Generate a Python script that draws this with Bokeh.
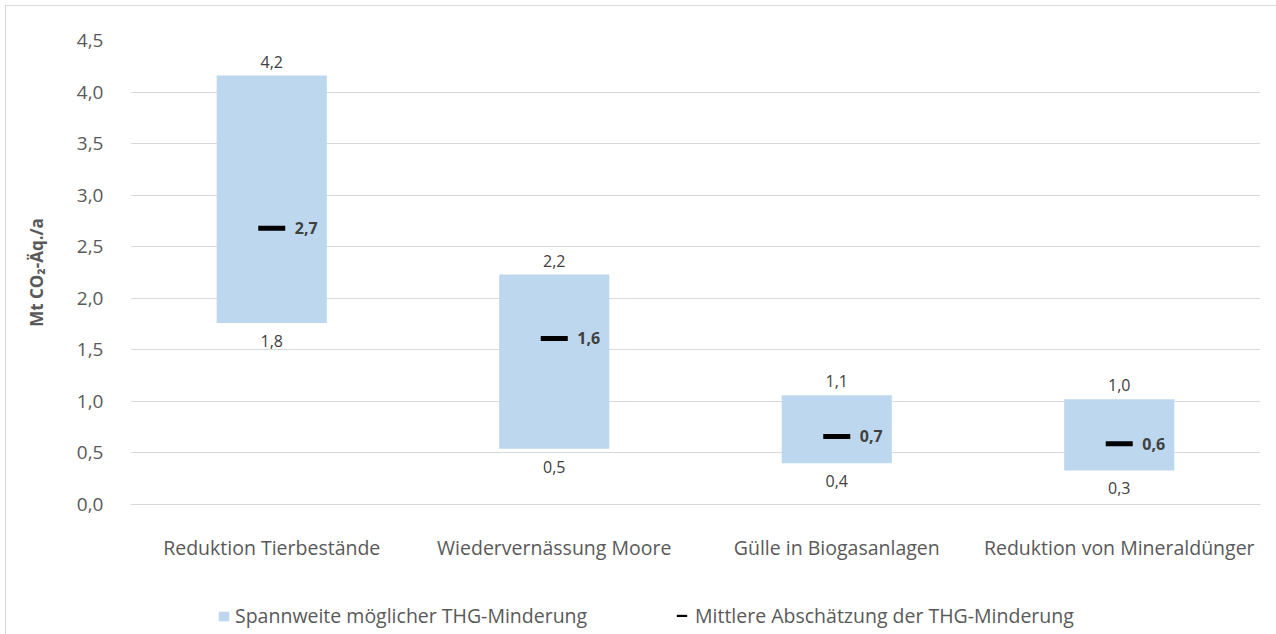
from bokeh.plotting import figure
from bokeh.layouts import column
from bokeh.models import FactorRange, FixedTicker, Legend, LegendItem, ColumnDataSource, Range1d
from bokeh.core.properties import value
from bokeh.embed import file_html
from bokeh.resources import INLINE

categories = ["Reduktion Tierbestände", "Wiedervernässung Moore", "Gülle in Biogasanlagen", "Reduktion von Mineraldünger"]
low_values = [1.76, 0.54, 0.40, 0.33]
high_values = [4.16, 2.23, 1.06, 1.02]
mean_values = [2.68, 1.61, 0.66, 0.59]
y_ticks = [0.0, 0.5, 1.0, 1.5, 2.0, 2.5, 3.0, 3.5, 4.0, 4.5]
legend_labels = ["Spannweite möglicher THG-Minderung", "Mittlere Abschätzung der THG-Minderung"]

FONT = "Open Sans"
TXT = "#595959"
LBL = "#404040"
GRID = "#d9d9d9"
BAR = "#bdd7ee"

def fmt(v):
    return f"{v:.1f}".replace(".", ",")

src = ColumnDataSource(dict(
    cat=categories, low=low_values, high=high_values, mean=mean_values,
    low_lbl=[fmt(v) for v in low_values],
    high_lbl=[fmt(v) for v in high_values],
    mean_lbl=[fmt(v) for v in mean_values],
))

xr = FactorRange(*categories, range_padding=0)
yr = Range1d(0, 4.5)

p = figure(width=1271, height=560, x_range=xr, y_range=yr,
           output_backend="svg", toolbar_location=None,
           min_border_left=124, min_border_right=17, min_border_top=34, min_border_bottom=62)
p.outline_line_color = None

bar_style = dict(fill_color=BAR, line_color=None)
mean_style = dict(fill_color="black", line_color=None)

bars = p.vbar(x="cat", bottom="low", top="high", width=0.39, source=src, **bar_style)
means = p.rect(x="cat", y="mean", width=27, height=5, width_units="screen", height_units="screen",
               source=src, **mean_style)

p.text(x="cat", y="high", text="high_lbl", source=src, y_offset=-14, text_align="center",
       text_baseline="middle", text_font=value(FONT), text_font_size="16px", text_color=LBL)
p.text(x="cat", y="low", text="low_lbl", source=src, y_offset=18, text_align="center",
       text_baseline="middle", text_font=value(FONT), text_font_size="16px", text_color=LBL)
p.text(x="cat", y="mean", text="mean_lbl", source=src, x_offset=23, text_align="left",
       text_baseline="middle", text_font=value(FONT), text_font_size="16px",
       text_font_style="bold", text_color=LBL)

# axes
p.yaxis.ticker = FixedTicker(ticks=y_ticks)
p.yaxis.major_label_overrides = {t: fmt(t) for t in y_ticks}
p.yaxis.axis_line_color = None
p.yaxis.major_tick_line_color = None
p.yaxis.minor_tick_line_color = None
p.yaxis.major_label_standoff = 21
p.yaxis.major_label_text_font = FONT
p.yaxis.major_label_text_font_size = "19px"
p.yaxis.major_label_text_color = TXT
p.yaxis.axis_label = "Mt CO₂-Äq./a"
p.yaxis.axis_label_text_font = FONT
p.yaxis.axis_label_text_font_size = "17px"
p.yaxis.axis_label_text_font_style = "bold"
p.yaxis.axis_label_text_color = TXT
p.yaxis.axis_label_standoff = 26

p.xaxis.axis_line_color = GRID
p.xaxis.major_tick_line_color = None
p.xaxis.minor_tick_line_color = None
p.xaxis.major_label_standoff = 23
p.xaxis.major_label_text_font = FONT
p.xaxis.major_label_text_font_size = "19.5px"
p.xaxis.major_label_text_color = TXT

p.xgrid.grid_line_color = None
p.ygrid.grid_line_color = GRID
p.ygrid.grid_line_width = 1

# legend strip below the chart (hidden copies of the series supply the legend glyphs)
lf = figure(width=1271, height=68, x_range=xr, y_range=yr, output_backend="svg", toolbar_location=None,
            x_axis_type=None, y_axis_type=None,
            min_border_left=0, min_border_right=0, min_border_top=0, min_border_bottom=0)
lf.outline_line_color = None
lf.xgrid.grid_line_color = None
lf.ygrid.grid_line_color = None
r_bar = lf.vbar(x="cat", bottom="low", top="high", width=0.39, source=src, visible=False, **bar_style)
r_mean = lf.rect(x="cat", y="mean", width=27, height=5, width_units="screen", height_units="screen",
                 source=src, visible=False, **mean_style)

common = dict(padding=0, margin=0, border_line_color=None, background_fill_alpha=0,
              inactive_fill_alpha=0,
              label_text_font=FONT, label_text_font_size="19.5px", label_text_color=TXT)
leg1 = Legend(items=[LegendItem(label=legend_labels[0], renderers=[r_bar])],
              location=(87, 5), glyph_width=13, glyph_height=12, label_standoff=5, **common)
leg2 = Legend(items=[LegendItem(label=legend_labels[1], renderers=[r_mean])],
              location=(545, 5), glyph_width=13, glyph_height=3, label_standoff=7, **common)
lf.add_layout(leg1, "center")
lf.add_layout(leg2, "center")

layout = column(p, lf, spacing=0)
layout.margin = (5, 0, 0, 5)
layout.styles = {"border-left": "1px solid #d9d9d9", "border-top": "1px solid #d9d9d9"}

open("out.html", "w").write(file_html(layout, INLINE))
